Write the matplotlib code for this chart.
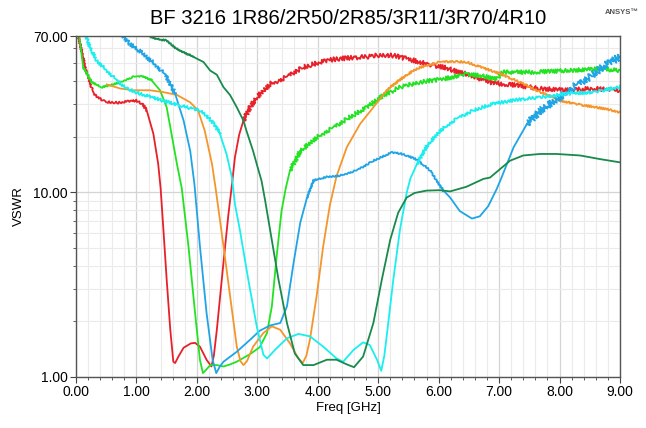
import numpy as np
import matplotlib
matplotlib.use("Agg")
import matplotlib.pyplot as plt
from matplotlib.ticker import FixedLocator, NullFormatter

plt.rcParams["font.family"] = ["Liberation Sans", "DejaVu Sans"]

TITLE = "BF 3216 1R86/2R50/2R85/3R11/3R70/4R10"

# curves (freq in GHz, VSWR)
red_x = [0.02, 0.15, 0.29, 0.48, 0.70, 0.85, 1.00, 1.10, 1.17, 1.28, 1.36, 1.40, 1.45, 1.50,
         1.56, 1.61, 1.64, 1.70, 1.78, 1.90, 1.97, 2.05, 2.16, 2.24, 2.28, 2.33, 2.44, 2.52,
         2.58, 2.63, 2.70, 2.77, 2.88, 2.99, 3.10, 3.21, 3.35, 3.49, 3.60, 3.76, 3.90, 4.04,
         4.20, 4.37, 4.60, 4.81, 5.00, 5.14, 5.30, 5.45, 5.58, 5.69, 5.85, 6.08, 6.25, 6.46,
         6.65, 6.85, 7.05, 7.29, 7.50, 7.68, 7.90, 8.12, 8.35, 8.56, 8.78, 9.00]
red_y = [75.0, 47.8, 34.0, 30.8, 30.5, 31.0, 31.3, 30.0, 27.7, 20.7, 14.2, 10.5, 6.0, 3.37,
         1.80, 1.21, 1.19, 1.30, 1.44, 1.52, 1.53, 1.46, 1.24, 1.14, 1.30, 1.80, 4.17, 7.5,
         11.0, 15.5, 20.5, 24.4, 29.0, 32.6, 35.5, 38.6, 40.0, 42.1, 44.5, 47.4, 49.0, 50.6,
         52.0, 52.8, 53.5, 54.0, 55.0, 55.2, 54.5, 53.0, 51.7, 50.6, 49.0, 47.4, 45.5, 43.7,
         41.5, 39.4, 38.5, 37.9, 37.0, 36.4, 36.0, 35.6, 36.0, 36.4, 36.0, 35.6]

green_x = [0.03, 0.12, 0.26, 0.42, 0.56, 0.73, 0.95, 1.11, 1.25, 1.39, 1.50, 1.58, 1.67, 1.75,
           1.86, 1.97, 2.05, 2.10, 2.16, 2.22, 2.33, 2.44, 2.55, 2.66, 2.88, 3.04, 3.16, 3.24,
           3.32, 3.40, 3.47, 3.54, 3.71, 3.98, 4.26, 4.53, 4.81, 5.08, 5.36, 5.69, 6.08, 6.46,
           6.79, 6.96, 7.05, 7.57, 8.12, 8.67, 9.00]
green_y = [80.0, 47.4, 39.4, 37.0, 37.9, 39.4, 42.1, 42.4, 40.3, 35.6, 28.8, 20.7, 14.2, 10.5,
           5.11, 2.22, 1.24, 1.05, 1.10, 1.16, 1.16, 1.14, 1.17, 1.21, 1.33, 1.45, 1.73, 2.41,
           4.51, 7.9, 10.5, 13.1, 16.7, 19.8, 22.4, 25.5, 28.8, 33.3, 37.0, 39.4, 41.0, 43.7,
           42.1, 41.0, 44.6, 44.6, 45.5, 46.5, 45.5]

orange_x = [0.51, 0.73, 0.95, 1.22, 1.44, 1.67, 1.89, 2.02, 2.13, 2.25, 2.31, 2.44, 2.55, 2.66,
            2.72, 2.77, 2.83, 2.93, 3.10, 3.24, 3.38, 3.54, 3.68, 3.75, 3.81, 3.87, 3.98, 4.09,
            4.20, 4.31, 4.48, 4.70, 4.92, 5.14, 5.36, 5.58, 5.69, 6.02, 6.19, 6.46, 6.63, 7.02,
            7.40, 7.68, 8.01, 8.40, 8.78, 9.00]
orange_y = [38.3, 36.4, 35.6, 35.6, 34.8, 33.6, 30.6, 27.7, 21.5, 14.2, 10.5, 5.11, 2.73, 1.46,
            1.22, 1.16, 1.22, 1.46, 1.73, 1.88, 1.80, 1.52, 1.26, 1.19, 1.30, 1.59, 2.73, 5.11,
            8.5, 12.2, 17.5, 23.4, 28.8, 35.6, 40.7, 45.5, 47.4, 50.6, 51.0, 50.6, 48.4, 43.7,
            38.6, 34.8, 31.3, 29.5, 28.2, 27.0]

blue_x = [0.70, 0.89, 1.11, 1.33, 1.50, 1.64, 1.78, 1.89, 1.96, 2.05, 2.16, 2.26, 2.32, 2.38,
          2.44, 2.66, 2.88, 3.04, 3.21, 3.38, 3.49, 3.60, 3.71, 3.82, 3.93, 4.15, 4.37, 4.64,
          4.92, 5.22, 5.36, 5.47, 5.64, 5.86, 5.97, 6.08, 6.19, 6.35, 6.55, 6.68, 6.82, 6.96,
          7.04, 7.24, 7.46, 7.68, 7.95, 8.23, 8.50, 8.78, 9.00]
blue_y = [75.0, 63.6, 56.3, 48.4, 42.1, 34.1, 24.4, 16.7, 11.0, 5.11, 2.22, 1.24, 1.05, 1.14,
          1.21, 1.37, 1.59, 1.78, 1.90, 1.96, 2.41, 4.15, 6.84, 9.3, 11.6, 12.1, 12.3, 13.1,
          14.8, 16.4, 16.2, 15.8, 15.0, 13.1, 11.5, 10.2, 9.35, 7.9, 7.2, 7.4, 8.4, 10.4,
          12.0, 17.5, 23.4, 27.7, 31.8, 37.0, 42.1, 49.5, 54.0]

cyan_x = [0.13, 0.15, 0.23, 0.34, 0.51, 0.67, 0.84, 1.06, 1.33, 1.61, 1.94, 2.05, 2.16, 2.30,
          2.38, 2.49, 2.58, 2.63, 2.71, 2.85, 2.99, 3.10, 3.16, 3.22, 3.29, 3.49, 3.68, 3.87,
          4.09, 4.31, 4.42, 4.59, 4.75, 4.86, 4.98, 5.05, 5.10, 5.14, 5.25, 5.36, 5.47, 5.53,
          5.64, 5.80, 6.02, 6.30, 6.57, 6.90, 7.29, 7.68, 8.12, 8.56, 9.00]
cyan_y = [80.0, 73.0, 61.0, 51.7, 45.5, 40.3, 36.4, 34.1, 32.1, 30.1, 28.2, 27.7, 26.0, 23.0,
          20.7, 16.1, 12.0, 8.6, 6.28, 3.37, 1.88, 1.32, 1.26, 1.32, 1.40, 1.62, 1.71, 1.66,
          1.46, 1.26, 1.21, 1.40, 1.54, 1.49, 1.24, 1.08, 1.30, 1.66, 3.37, 6.28, 9.9, 11.8,
          14.2, 17.7, 21.5, 25.0, 27.7, 30.1, 31.6, 32.6, 34.1, 34.8, 37.0]

dgreen_x = [1.08, 1.11, 1.33, 1.50, 1.67, 1.94, 2.11, 2.22, 2.33, 2.44, 2.55, 2.66, 2.77, 2.82,
            2.93, 2.99, 3.07, 3.13, 3.21, 3.35, 3.49, 3.62, 3.76, 3.93, 4.15, 4.31, 4.48, 4.60,
            4.75, 4.92, 5.06, 5.20, 5.33, 5.47, 5.60, 5.80, 6.02, 6.19, 6.46, 6.74, 6.85, 7.18,
            7.40, 7.68, 7.95, 8.34, 8.67, 9.00]
dgreen_y = [80.0, 72.0, 67.6, 66.2, 59.5, 54.0, 50.6, 45.5, 43.2, 37.0, 33.5, 28.8, 24.4, 21.5,
            16.7, 14.2, 11.5, 8.98, 6.28, 3.37, 1.96, 1.34, 1.16, 1.16, 1.24, 1.24, 1.17, 1.13,
            1.29, 1.96, 3.37, 5.55, 7.74, 9.35, 9.9, 10.2, 10.25, 10.1, 10.7, 11.8, 12.0, 14.8,
            15.8, 16.1, 16.1, 15.8, 15.1, 14.5]

# (colour, x, y, noisy ranges as (lo, hi, wiggle px))
CURVES = [
    ("#e8202a", red_x, red_y, [(0.15, 1.17, 1.0), (2.88, 9.0, 2.2)]),
    ("#22e322", green_x, green_y, [(0.26, 1.25, 0.8), (3.71, 9.0, 2.0)]),
    ("#f5952a", orange_x, orange_y, [(5.36, 9.0, 1.0)]),
    ("#1fa5e6", blue_x, blue_y, [(0.70, 1.64, 1.8), (3.93, 6.08, 0.8), (7.68, 9.0, 3.5)]),
    ("#1aeeee", cyan_x, cyan_y, [(0.15, 2.38, 1.4), (5.80, 9.0, 1.5)]),
    ("#178a4c", dgreen_x, dgreen_y, [(1.11, 1.94, 0.8)]),
]


def draw_curve(ax, color, x, y, noisy):
    x = np.asarray(x)
    y = np.asarray(y)
    edges = sorted({x[0], x[-1], *[a for a, b, s in noisy], *[b for a, b, s in noisy]})
    for lo, hi in zip(edges[:-1], edges[1:]):
        i0 = np.searchsorted(x, lo, "left")
        i1 = np.searchsorted(x, hi, "right")
        i0 = max(i0 - 1, 0)
        if i1 - i0 < 2:
            continue
        amp = 0
        for a, b, s in noisy:
            if a <= lo and hi <= b:
                amp = s
        line, = ax.plot(x[i0:i1], y[i0:i1], color=color, lw=1.3, solid_joinstyle="round")
        if amp:
            line.set_sketch_params(scale=amp, length=3, randomness=2)


fig = plt.figure(figsize=(6.46, 4.28), dpi=100)
ax = fig.add_axes([76 / 646, 1 - 377 / 428, (620 - 76) / 646, (377 - 36) / 428])

for color, x, y, noisy in CURVES:
    draw_curve(ax, color, x, y, noisy)

ax.set_yscale("log")
ax.set_xlim(0, 9)
ax.set_ylim(1, 70)
ax.set_xticks(np.arange(0, 10, 1))
ax.set_xticklabels([f"{v:.2f}" for v in range(10)])
ax.xaxis.set_minor_locator(FixedLocator(np.arange(0, 9.01, 0.2)))
ax.yaxis.set_major_locator(FixedLocator([1, 10, 70]))
ax.set_yticklabels(["1.00", "10.00", "70.00"])
ax.yaxis.set_minor_locator(FixedLocator([2, 3, 4, 5, 6, 7, 8, 9, 20, 30, 40, 50, 60]))
ax.yaxis.set_minor_formatter(NullFormatter())

ax.grid(True, which="major", color="#d4d4d4", lw=0.9)
ax.grid(True, which="minor", color="#ebebeb", lw=0.8)
ax.set_axisbelow(True)
ax.tick_params(which="major", length=4, width=0.8, color="#444444", labelsize=10, pad=2)
ax.tick_params(which="minor", length=2, width=0.6, color="#444444")
for sp in ax.spines.values():
    sp.set_color("#555555")
    sp.set_linewidth(1.0)

ax.set_xlabel("Freq [GHz]", fontsize=9.5, labelpad=2)
ax.set_ylabel("VSWR", fontsize=9.5, labelpad=6)
fig.text(348 / 646, 1 - 18 / 428, TITLE, ha="center", va="center", fontsize=14.5)
fig.text(622 / 646, 1 - 12 / 428, "ANSYS\u2122", ha="center", va="center", fontsize=5.5,
         fontweight="bold", color="#555555")

fig.savefig("out.png", dpi=100)
